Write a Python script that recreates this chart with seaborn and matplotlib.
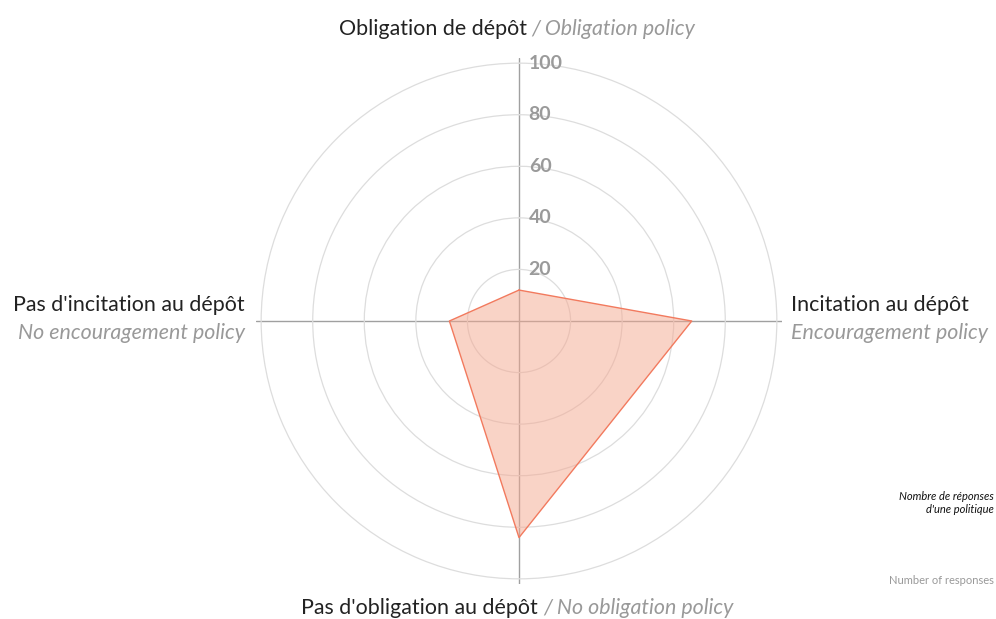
import numpy as np
import pandas as pd
import matplotlib
matplotlib.use('Agg')
import matplotlib.pyplot as plt
import seaborn as sns

sns.set_style('white')
plt.rcParams['font.family'] = ['Lato', 'DejaVu Sans']

# data
axes_fr = ["Obligation de dépôt", "Incitation au dépôt",
           "Pas d'obligation au dépôt", "Pas d'incitation au dépôt"]
axes_en = ["Obligation policy", "Encouragement policy",
           "No obligation policy", "No encouragement policy"]
values = [12, 67, 84, 27]
rings = [20, 40, 60, 80, 100]

fill_col = '#f5a88f'
edge_col = '#f27a5e'
grey = '#999999'
W, H = 996, 619

theta = np.deg2rad([0, 90, 180, 270])
df = pd.DataFrame({'theta': np.append(theta, theta[0] + 2 * np.pi),
                   'value': values + values[:1]})

fig = plt.figure(figsize=(W / 100, H / 100), dpi=100)
cx, cy, rpix = 519, 321, 263
ax = fig.add_axes([(cx - rpix) / W, (H - cy - rpix) / H, 2 * rpix / W, 2 * rpix / H],
                  projection='polar')
ax.set_theta_zero_location('N')
ax.set_theta_direction(-1)
ax.set_ylim(0, 102)

ax.fill(df['theta'], df['value'], color=fill_col, alpha=0.5, lw=0, zorder=2)
sns.lineplot(data=df, x='theta', y='value', sort=False, ax=ax,
             color=edge_col, lw=1, zorder=3)

ax.set_xticks(theta)
ax.set_xticklabels([])
ax.set_yticks(rings)
ax.set_yticklabels([])
ax.xaxis.grid(True, color='#a0a0a0', lw=1)
ax.yaxis.grid(True, color='#dddddd', lw=0.9)
ax.spines['polar'].set_visible(False)
ax.set_xlabel('')
ax.set_ylabel('')

for r in rings:
    ax.annotate(str(r), xy=(0, r), xytext=(7, 0), textcoords='offset points',
                ha='left', va='center', fontsize=14, fontweight='bold',
                color='#9a9a9a', zorder=5)

def fx(x):
    return x / W

def fy(y):
    return 1 - y / H

fs = 15.4
# top
fig.text(fx(527), fy(29), axes_fr[0], ha='right', va='center', fontsize=fs, color='#222222')
fig.text(fx(531), fy(29), '/ ' + axes_en[0], ha='left', va='center', fontsize=fs,
         color=grey, style='italic')
# bottom
fig.text(fx(538), fy(608), axes_fr[2], ha='right', va='center', fontsize=fs, color='#222222')
fig.text(fx(543), fy(608), '/ ' + axes_en[2], ha='left', va='center', fontsize=fs,
         color=grey, style='italic')
# right
fig.text(fx(791), fy(305), axes_fr[1], ha='left', va='center', fontsize=fs, color='#222222')
fig.text(fx(791), fy(333), axes_en[1], ha='left', va='center', fontsize=fs,
         color=grey, style='italic')
# left
fig.text(fx(245), fy(305), axes_fr[3], ha='right', va='center', fontsize=fs, color='#222222')
fig.text(fx(245), fy(333), axes_en[3], ha='right', va='center', fontsize=fs,
         color=grey, style='italic')

# legend notes at the right edge
fig.text(fx(994), fy(503), "Nombre de réponses\nd'une politique", ha='right', va='center',
         fontsize=8, style='italic', color='#111111', multialignment='right',
         linespacing=1.3)
fig.text(fx(994), fy(581), "Number of responses", ha='right', va='center',
         fontsize=8, color=grey)

fig.savefig('out.png', dpi=100)
